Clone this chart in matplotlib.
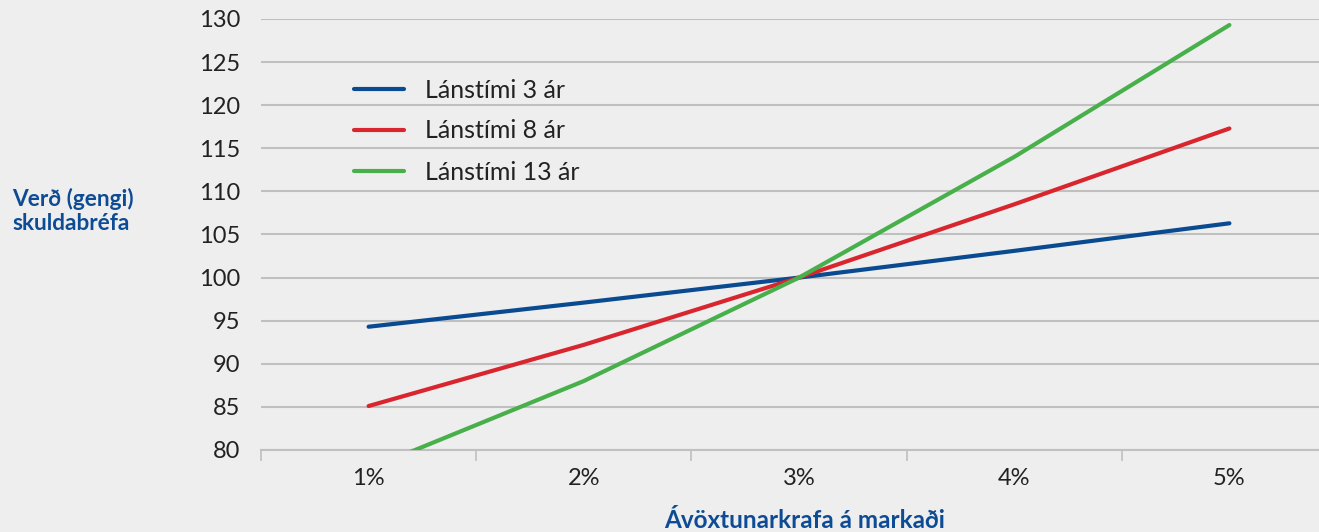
import matplotlib

matplotlib.use("Agg")

import numpy as np
from matplotlib import pyplot as plt

# data
categories = ["1%", "2%", "3%", "4%", "5%"]
series_labels = ["Lánstími 3 ár", "Lánstími 8 ár", "Lánstími 13 ár"]
price_3y = [94.3, 97.1, 100.0, 103.1, 106.3]
price_8y = [85.1, 92.2, 100.0, 108.5, 117.3]
price_13y = [77.8, 88.0, 100.0, 114.0, 129.3]
y_ticks = list(range(80, 131, 5))

COLORS = ["#0a4a90", "#d9262e", "#47b04b"]
BG = "#eeeeee"
GRID = "#c0c0c0"
LABEL_BLUE = "#0d4c94"
TEXT = "#222222"

plt.rcParams["font.family"] = ["Lato", "DejaVu Sans"]

fig = plt.figure(figsize=(13.19, 5.32), dpi=100, facecolor=BG)
ax = fig.add_axes([261 / 1319, 82 / 532, 1076 / 1319, 431 / 532], facecolor=BG)

x = np.arange(len(categories))
for values, label, color in zip([price_3y, price_8y, price_13y], series_labels, COLORS):
    ax.plot(x, values, color=color, lw=3.0, solid_capstyle="round", label=label, zorder=3)

ax.set_xlim(-0.5, len(categories) - 0.5)
ax.set_ylim(80, 130)
ax.set_yticks(y_ticks)
ax.set_yticklabels([str(t) for t in y_ticks], fontsize=17, color=TEXT)
ax.tick_params(axis="y", length=0, pad=15)

ax.set_xticks(x)
ax.set_xticklabels(categories, fontsize=17, color=TEXT)
ax.set_xticks(np.arange(-0.5, len(categories), 1.0), minor=True)
ax.tick_params(axis="x", which="major", length=0, pad=13)
ax.tick_params(axis="x", which="minor", length=8, width=1.2, color=GRID)

ax.grid(axis="y", color=GRID, lw=1.5, zorder=0)
for side in ["top", "right", "left"]:
    ax.spines[side].set_visible(False)
ax.spines["bottom"].set_color(GRID)
ax.spines["bottom"].set_linewidth(1.5)

leg = ax.legend(
    loc="upper left",
    bbox_to_anchor=(70 / 1076, 1 - 37 / 431),
    frameon=False,
    fontsize=18,
    handlelength=2.0,
    handletextpad=0.85,
    labelspacing=0.72,
)
for t in leg.get_texts():
    t.set_color(TEXT)

fig.text(12 / 1319, 1 - 211 / 532, "Verð (gengi)\nskuldabréfa", ha="left", va="center",
         fontsize=16.3, fontweight="bold", color=LABEL_BLUE, linespacing=1.15)
fig.text(805 / 1319, 1 - 520 / 532, "Ávöxtunarkrafa á markaði", ha="center", va="center",
         fontsize=17.5, fontweight="bold", color=LABEL_BLUE)

fig.savefig("out.png", dpi=100, facecolor=BG)
